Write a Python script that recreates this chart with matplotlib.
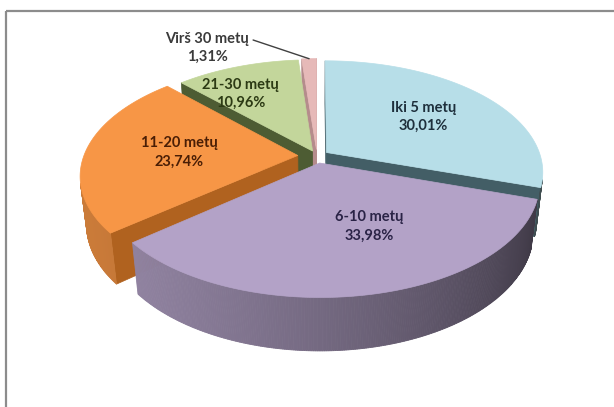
import numpy as np
import matplotlib
matplotlib.use("Agg")
import matplotlib.pyplot as plt
from matplotlib.patches import Polygon
from matplotlib.colors import to_rgb

# data
categories = ["Iki 5 metų", "6-10 metų", "11-20 metų", "21-30 metų", "Virš 30 metų"]
shares = [30.01, 33.98, 23.74, 10.96, 1.31]

# styles
top_colors = ["#B7DEE8", "#B3A2C7", "#F79646", "#C3D69B", "#E6B9B8"]
cut_colors = ["#435E66", "#5E5172", "#B0621F", "#4D5C33", "#B58C8C"]
text_colors = ["#1E2F3C", "#2A2346", "#4A1E05", "#2C3A14", "#3A3A3A"]
explode = [0.055, 0.065, 0.09, 0.05, 0.06]
label_r = [0.6, 0.56, 0.56, 0.70, 1.30]
label_shift = [0, 11, 0, 8, 26]   # degrees from the slice middle

# view of the 3d pie (pixels)
CX, CY = 317, 156
F = 1070
D = 5.0
ALPHA = np.radians(30.5)
H = 0.265
sa, ca = np.sin(ALPHA), np.cos(ALPHA)
cam = np.array([0.0, -D * ca, D * sa])


def project(X, Y, Z):
    X, Y, Z = np.asarray(X, float), np.asarray(Y, float), np.asarray(Z, float)
    v = Y * sa + Z * ca
    w = D + Y * ca - Z * sa
    return CX + F * X / w, CY - F * v / w


def facing(p, n):
    return np.dot(cam - p, n) > 0


def shade(color, k):
    return tuple(min(1, max(0, c * k)) for c in to_rgb(color))


fig = plt.figure(figsize=(6.14, 4.07), dpi=100)
ax = fig.add_axes([0, 0, 1, 1])
ax.set_xlim(0, 614)
ax.set_ylim(407, 0)
ax.axis('off')

# frame lines (top and left)
ax.plot([6, 614], [11, 11], color="#8C8C8C", lw=1.6, solid_capstyle='butt')
ax.plot([6, 6], [11, 407], color="#8C8C8C", lw=1.6, solid_capstyle='butt')

fracs = np.array(shares) / sum(shares)
starts = 90 - 360 * np.concatenate([[0], np.cumsum(fracs)[:-1]])
ends = starts - 360 * fracs

slices = []
for i in range(len(shares)):
    a, b = np.radians(ends[i]), np.radians(starts[i])
    mid = (a + b) / 2
    off = explode[i] * np.array([np.cos(mid), np.sin(mid)])
    th = np.linspace(a, b, max(4, int(np.degrees(b - a) * 2)))
    rx = off[0] + np.cos(th)
    ry = off[1] + np.sin(th)
    depth_key = np.mean(np.concatenate([[off[1]], ry]))
    slices.append(dict(i=i, a=a, b=b, mid=mid, off=off, th=th, rx=rx, ry=ry, key=depth_key))

# far slices first
for s in sorted(slices, key=lambda d: -d['key']):
    i = s['i']
    ox, oy = s['off']
    # radial cut faces
    for ang, n in [(s['a'], np.array([np.sin(s['a']), -np.cos(s['a']), 0])),
                   (s['b'], np.array([-np.sin(s['b']), np.cos(s['b']), 0]))]:
        ex, ey = ox + np.cos(ang), oy + np.sin(ang)
        p = np.array([(ox + ex) / 2, (oy + ey) / 2, -H / 2])
        if facing(p, n):
            xs, ys = project([ox, ex, ex, ox], [oy, ey, ey, oy], [0, 0, -H, -H])
            ax.add_patch(Polygon(np.column_stack([xs, ys]), closed=True,
                                 facecolor=cut_colors[i], edgecolor=cut_colors[i], lw=0.5))
    # outer wall, piece by piece with shading
    th, rx, ry = s['th'], s['rx'], s['ry']
    for j in range(len(th) - 1):
        tm = (th[j] + th[j + 1]) / 2
        n = np.array([np.cos(tm), np.sin(tm), 0])
        p = np.array([ox + np.cos(tm), oy + np.sin(tm), -H / 2])
        if not facing(p, n):
            continue
        k = 0.56 + 0.26 * np.cos(tm - np.radians(200))
        col = shade(top_colors[i], k)
        xs, ys = project([rx[j], rx[j + 1], rx[j + 1], rx[j]],
                         [ry[j], ry[j + 1], ry[j + 1], ry[j]], [0, 0, -H, -H])
        ax.add_patch(Polygon(np.column_stack([xs, ys]), closed=True,
                             facecolor=col, edgecolor=col, lw=0.6))
    # top face
    xs, ys = project(np.concatenate([[ox], rx]), np.concatenate([[oy], ry]),
                     np.zeros(len(rx) + 1))
    ax.add_patch(Polygon(np.column_stack([xs, ys]), closed=True,
                         facecolor=top_colors[i], edgecolor=top_colors[i], lw=0.5))

# labels
for s in slices:
    i = s['i']
    txt = categories[i] + "\n" + f"{shares[i]:.2f}%".replace('.', ',')
    ang = s['mid'] + np.radians(label_shift[i])
    ox, oy = s['off']
    lx, ly = project(ox + label_r[i] * np.cos(ang), oy + label_r[i] * np.sin(ang), 0)
    style = dict(ha='center', va='center', fontsize=10.5, fontweight='bold',
                 family=['Lato', 'DejaVu Sans'], color=text_colors[i], linespacing=1.4)
    if label_r[i] > 1:
        px, py = project(ox + np.cos(s['mid']), oy + np.sin(s['mid']), 0)
        ax.annotate(txt, xy=(float(px), float(py)), xytext=(float(lx), float(ly)),
                    arrowprops=dict(arrowstyle='-', color='#404040', lw=1,
                                    relpos=(1.0, 0.78), shrinkA=1, shrinkB=0),
                    **style)
    else:
        ax.text(float(lx), float(ly), txt, **style)

fig.savefig("out.png", dpi=100)
